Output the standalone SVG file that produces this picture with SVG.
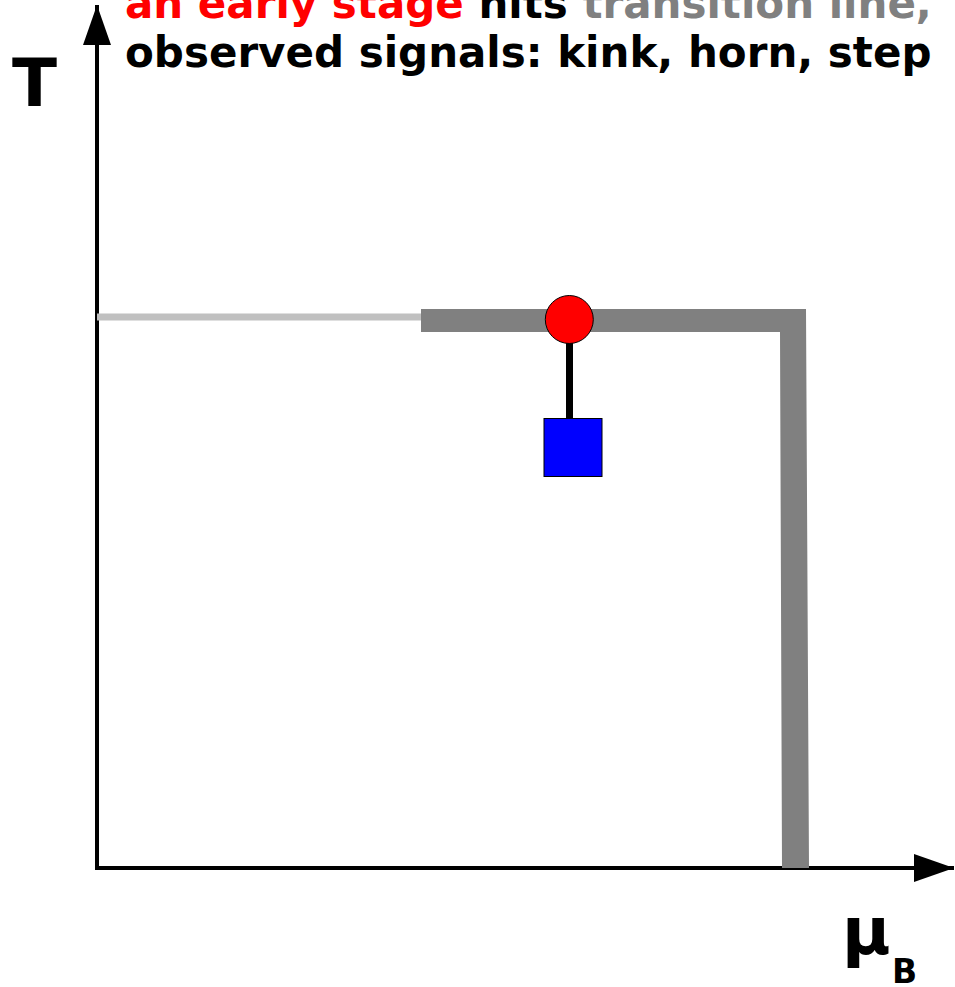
<svg xmlns="http://www.w3.org/2000/svg" width="955" height="987" viewBox="0 0 955 987">
<style>
.t{font-family:"DejaVu Sans",sans-serif;font-weight:bold}
</style>
<defs>
<marker id="ah" markerUnits="userSpaceOnUse" markerWidth="42" markerHeight="30" refX="40" refY="14" orient="auto" viewBox="0 0 42 30">
<path d="M0,0 L40,14 L0,28 Z" fill="#000"/>
</marker>
</defs>
<rect width="955" height="987" fill="#fff"/>
<g id="connectors">
<line x1="97" y1="868" x2="97" y2="5" stroke="#000" stroke-width="4" marker-end="url(#ah)"/>
<line x1="95" y1="868" x2="954" y2="868" stroke="#000" stroke-width="4" marker-end="url(#ah)"/>
<line x1="97" y1="317" x2="421" y2="317" stroke="#c0c0c0" stroke-width="7"/>
<polygon points="421,309 806,309 809,868 782,868 780,332 421,332" fill="#808080"/>
<line x1="569.5" y1="343" x2="569.5" y2="419" stroke="#000" stroke-width="7"/>
</g>
<g id="critical-point">
<circle cx="569.3" cy="319.5" r="24" fill="#ff0000" stroke="#000" stroke-width="1"/>
</g>
<g id="freezeout">
<rect x="544" y="418.5" width="58" height="58" fill="#0000ff" stroke="#000" stroke-width="1"/>
</g>
<g id="labels">
<text class="t" x="125" y="18" font-size="42"><tspan fill="#ff0000">an early stage</tspan> <tspan fill="#000">hits</tspan> <tspan fill="#808080">transition line,</tspan></text>
<text class="t" x="125" y="67" font-size="42" fill="#000">observed signals: kink, horn, step</text>
<text class="t" x="12" y="106" font-size="66" fill="#000">T</text>
<text class="t" x="842" y="954" font-size="66" fill="#000">μ</text>
<text class="t" x="892" y="983" font-size="33" fill="#000">B</text>
</g>
</svg>
